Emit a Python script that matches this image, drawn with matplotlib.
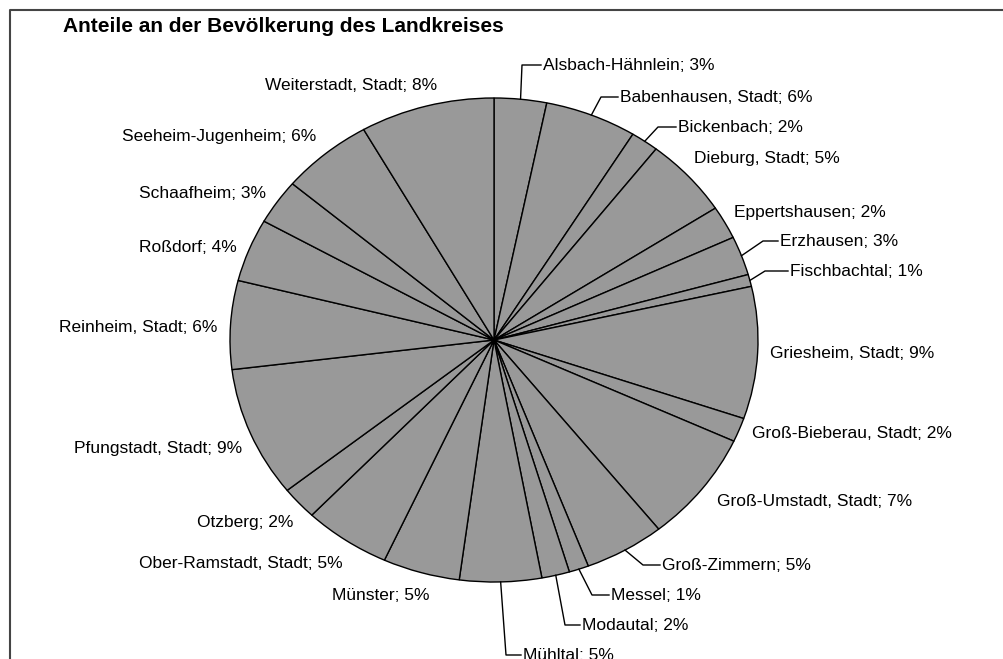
import matplotlib
matplotlib.use("Agg")
import matplotlib.pyplot as plt
import numpy as np

plt.rcParams['font.family'] = ['Liberation Sans', 'DejaVu Sans']

title = "Anteile an der Bevölkerung des Landkreises"
gemeinden = ["Alsbach-Hähnlein", "Babenhausen, Stadt", "Bickenbach", "Dieburg, Stadt",
             "Eppertshausen", "Erzhausen", "Fischbachtal", "Griesheim, Stadt",
             "Groß-Bieberau, Stadt", "Groß-Umstadt, Stadt", "Groß-Zimmern", "Messel",
             "Modautal", "Mühltal", "Münster", "Ober-Ramstadt, Stadt", "Otzberg",
             "Pfungstadt, Stadt", "Reinheim, Stadt", "Roßdorf", "Schaafheim",
             "Seeheim-Jugenheim", "Weiterstadt, Stadt"]
# shares (%)
anteile = [3.2, 5.6, 1.7, 5.3, 2.2, 2.6, 0.8, 8.8, 1.6, 7.4, 4.9, 1.2,
           1.7, 5.0, 4.7, 5.3, 2.2, 8.7, 5.9, 4.2, 3.0, 5.6, 8.2]

# ---- layout (pixel coordinates of the 1004x659 canvas) ----
W, H = 1004, 659
CX, CY, RX, RY = 494, 340, 264, 242
# label anchor: (x, y, ha)
label_pos = [(543, 65, 'left'), (620, 97, 'left'), (678, 127, 'left'), (694, 158, 'left'),
             (734, 212, 'left'), (780, 241, 'left'), (790, 271, 'left'), (770, 353, 'left'),
             (752, 434, 'left'), (717, 501, 'left'), (662, 565, 'left'), (611, 595, 'left'),
             (582, 625, 'left'), (523, 655, 'left'),
             (430, 596, 'right'), (343, 563, 'right'), (293, 523, 'right'),
             (242, 448, 'right'), (217, 327, 'right'), (237, 247, 'right'),
             (266, 193, 'right'), (316, 137, 'right'), (437, 86, 'right')]
# leader-line bend points (index -> (x, y))
leader_bend = {0: (522, 65), 1: (601, 97), 2: (658, 127), 5: (763, 241), 6: (765, 271),
               10: (643, 565), 11: (592, 595), 12: (565, 625), 13: (506, 655)}


def d(px, py):
    return (px - CX) / RX, (CY - py) / RY


fig = plt.figure(figsize=(W / 100, H / 100), dpi=100)
ax = fig.add_axes([0, 0, 1, 1])
wedges, _ = ax.pie(anteile, startangle=90, counterclock=False, radius=1.0,
                   colors=['#999999'] * len(anteile),
                   wedgeprops=dict(edgecolor='black', linewidth=1.0))
ax.set_aspect('auto')
x0, y1 = d(0, 0)
x1, y0 = d(W, H)
ax.set_xlim(x0, x1)
ax.set_ylim(y0, y1)
ax.axis('off')

total = sum(anteile)
fs = 12.5
for i, (name, val) in enumerate(zip(gemeinden, anteile)):
    lx, ly, ha = label_pos[i]
    tx, ty = d(lx, ly)
    pct = int(round(val / total * 100))
    ax.text(tx, ty, f"{name}; {pct}%", ha=ha, va='center', fontsize=fs, color='black')
    if i in leader_bend:
        w = wedges[i]
        th = np.deg2rad((w.theta1 + w.theta2) / 2)
        ex, ey = np.cos(th), np.sin(th)
        bx, by = d(*leader_bend[i])
        ex2, _ = d(lx - 2, ly)
        ax.plot([ex, bx, ex2], [ey, by, by], color='black', lw=1.0, clip_on=False)

# title
tx, ty = d(63, 27)
ax.text(tx, ty, title, ha='left', va='center', fontsize=15, fontweight='bold')

# frame (chart area border, cut at right and bottom)
fx0, fy0 = d(10, 10)
fx1, fy1 = d(W + 5, H + 5)
ax.plot([fx0, fx0, fx1], [fy1, fy0, fy0], color='#444444', lw=1.5, clip_on=False)

fig.savefig("out.png", dpi=100)
